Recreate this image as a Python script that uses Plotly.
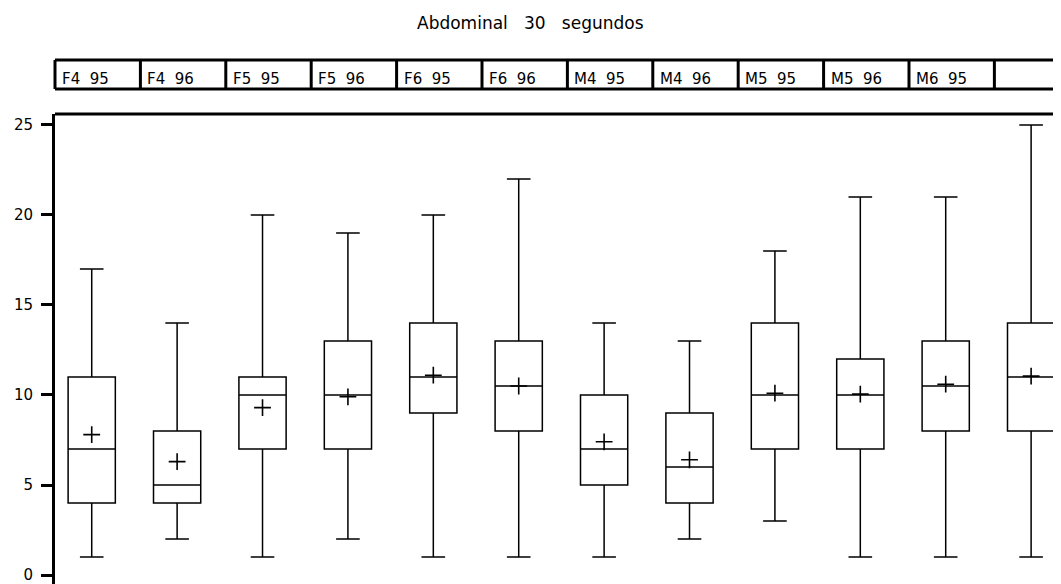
import plotly.graph_objects as go

# ---- data ----
strip_labels = ["F4 95", "F4 96", "F5 95", "F5 96", "F6 95", "F6 96",
                "M4 95", "M4 96", "M5 95", "M5 96", "M6 95", ""]
lower_whisker = [1, 2, 1, 2, 1, 1, 1, 2, 3, 1, 1, 1]
q1_values = [4, 4, 7, 7, 9, 8, 5, 4, 7, 7, 8, 8]
median_values = [7, 5, 10, 10, 11, 10.5, 7, 6, 10, 10, 10.5, 11]
q3_values = [11, 8, 11, 13, 14, 13, 10, 9, 14, 12, 13, 14]
upper_whisker = [17, 14, 20, 19, 20, 22, 14, 13, 18, 21, 21, 25]
mean_values = [7.8, 6.3, 9.3, 9.9, 11.1, 10.5, 7.4, 6.4, 10.1, 10.05, 10.6, 11.05]
y_ticks = [0, 5, 10, 15, 20, 25]
title_text = "Abdominal\u00a0\u00a0\u00a030\u00a0\u00a0\u00a0segundos"

positions = list(range(len(strip_labels)))

# ---- layout constants (page body has an 8px margin) ----
BODY = 8
X0, X1 = -0.43, 11.35
Y0, Y1 = -0.5, 25.61
FONT = "DejaVu Sans"
PLOT_TOP_PX = 114          # in screenshot pixels
PLOT_LEFT_PX = 55
FIG_W, FIG_H = 1061 - BODY, 584 - BODY
PLOT_H_PX = 584 - PLOT_TOP_PX
PLOT_W_PX = 1061 - PLOT_LEFT_PX


def px_to_paper_y(py):
    return 1 + (PLOT_TOP_PX - py) / PLOT_H_PX


def px_to_paper_x(px):
    return (px - PLOT_LEFT_PX) / PLOT_W_PX


def data_to_paper_x(x):
    return (x - X0) / (X1 - X0)


fig = go.Figure()
fig.add_trace(go.Box(
    x=positions,
    q1=q1_values, median=median_values, q3=q3_values,
    lowerfence=lower_whisker, upperfence=upper_whisker,
    width=0.553, whiskerwidth=0.5,
    line=dict(color="black", width=1.5),
    fillcolor="rgba(255,255,255,0)",
    boxpoints=False, showlegend=False, hoverinfo="skip",
))
fig.add_trace(go.Scatter(
    x=positions, y=mean_values, mode="markers",
    marker=dict(symbol="cross-thin", size=12, line=dict(color="black", width=1.6)),
    showlegend=False, hoverinfo="skip",
))

shapes = []
shapes.append(dict(type="line", xref="paper", yref="paper", x0=0, x1=1, y0=1, y1=1,
                   line=dict(color="black", width=3)))
sy_top = px_to_paper_y(60)
sy_bot = px_to_paper_y(89)
for yy in (sy_top, sy_bot):
    shapes.append(dict(type="line", xref="paper", yref="paper", x0=0, x1=1, y0=yy, y1=yy,
                       line=dict(color="black", width=3)))
annotations = []
for i, lab in enumerate(strip_labels):
    left = data_to_paper_x(i - 0.43)
    if 0 <= left <= 1:
        shapes.append(dict(type="line", xref="paper", yref="paper", x0=left, x1=left,
                           y0=sy_bot, y1=sy_top, line=dict(color="black", width=3)))
    if lab:
        annotations.append(dict(xref="paper", yref="paper", x=left, y=px_to_paper_y(79),
                                xanchor="left", yanchor="middle", xshift=5,
                                text=lab.replace(" ", "\u00a0\u00a0"), showarrow=False,
                                font=dict(family=FONT, size=15, color="black")))

annotations.append(dict(xref="paper", yref="paper", x=px_to_paper_x(530), y=px_to_paper_y(23),
                        xanchor="center", yanchor="middle", showarrow=False,
                        text=title_text, font=dict(family=FONT, size=17, color="black")))

fig.update_layout(
    width=FIG_W, height=FIG_H,
    margin=dict(l=PLOT_LEFT_PX - BODY, r=0, t=PLOT_TOP_PX - BODY, b=0, pad=0),
    paper_bgcolor="white", plot_bgcolor="white",
    shapes=shapes, annotations=annotations,
    xaxis=dict(range=[X0, X1], visible=False),
    yaxis=dict(range=[Y0, Y1], tickvals=y_ticks, ticktext=[str(v) for v in y_ticks],
               showgrid=False, zeroline=False, showline=True, linecolor="black", linewidth=3,
               ticks="outside", ticklen=11, tickwidth=3, tickcolor="black",
               ticklabelstandoff=5, ticklabeloverflow="allow",
               tickfont=dict(family=FONT, size=15, color="black")),
)

fig.write_html("out.html")
